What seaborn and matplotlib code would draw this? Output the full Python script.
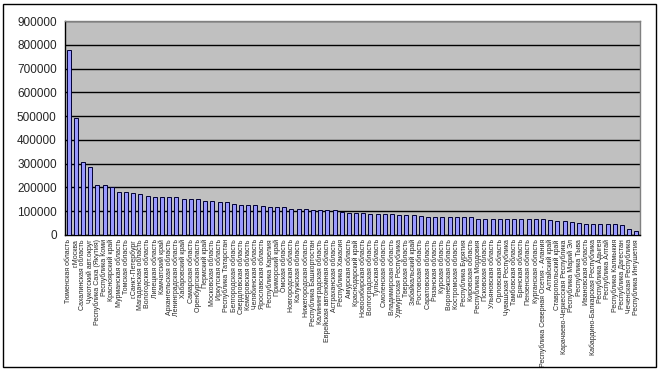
import matplotlib
matplotlib.use("Agg")
import matplotlib.pyplot as plt
import seaborn as sns
import pandas as pd
import numpy as np
from matplotlib.patches import Rectangle
from matplotlib.ticker import FixedLocator, MultipleLocator

regions = [
    "Тюменская область", "г.Москва", "Сахалинская область", "Чукотский авт.округ",
    "Республика Саха (Якутия)", "Республика Коми", "Красноярский край", "Мурманская область",
    "Томская область", "г.Санкт-Петербург", "Магаданская область", "Вологодская область",
    "Липецкая область", "Камчатский край", "Архангельская область", "Ленинградская область",
    "Хабаровский край", "Самарская область", "Оренбургская область", "Пермский край",
    "Московская область", "Иркутская область", "Республика Татарстан", "Белгородская область",
    "Свердловская область", "Кемеровская область", "Челябинская область", "Ярославская область",
    "Республика Карелия", "Приморский край", "Омская область", "Новгородская область",
    "Калужская область", "Нижегородская область", "Республика Башкортостан", "Калининградская область",
    "Еврейская автономная область", "Астраханская область", "Республика Хакасия", "Амурская область",
    "Краснодарский край", "Новосибирская область", "Волгоградская область", "Тульская область",
    "Смоленская область", "Владимирская область", "Удмуртская Республика", "Тверская область",
    "Забайкальский край", "Ростовская область", "Саратовская область", "Рязанская область",
    "Курская область", "Воронежская область", "Костромская область", "Республика Бурятия",
    "Кировская область", "Республика Мордовия", "Псковская область", "Ульяновская область",
    "Орловская область", "Чувашская Республика", "Тамбовская область", "Брянская область",
    "Пензенская область", "Курганская область", "Республика Северная Осетия - Алания", "Алтайский край",
    "Ставропольский край", "Карачаево-Черкесская Республика", "Республика Марий Эл", "Республика Тыва",
    "Ивановская область", "Кабардино-Балкарская Республика", "Республика Адыгея", "Республика Алтай",
    "Республика Калмыкия", "Республика Дагестан", "Чеченская Республика", "Республика Ингушетия",
]

values = [
    780000, 490000, 309000, 288000, 212000, 212000, 200000, 179000,
    179000, 175000, 171000, 166000, 158000, 158000, 158000, 158000,
    150000, 150000, 150000, 141000, 141000, 137000, 137000, 129000,
    125000, 125000, 125000, 121000, 117000, 117000, 117000, 108000,
    108000, 108000, 107000, 104000, 104000, 104000, 96000, 92000,
    92000, 92000, 87000, 87000, 87000, 87000, 83000, 83000,
    83000, 79000, 75000, 75000, 75000, 75000, 75000, 75000,
    75000, 66000, 66000, 66000, 66000, 66000, 66000, 66000,
    66000, 66000, 66000, 62000, 58000, 58000, 54000, 49000,
    45000, 45000, 45000, 45000, 45000, 41000, 24000, 15500,
]

y_ticks = [0, 100000, 200000, 300000, 400000, 500000, 600000, 700000, 800000, 900000]

df = pd.DataFrame({"region": regions, "value": values})

sns.set_style("white")
plt.rcParams["font.family"] = ["Liberation Sans", "DejaVu Sans"]

fig = plt.figure(figsize=(6.6, 3.7), dpi=100)
ax = fig.add_axes([65 / 660, 1 - 235 / 370, 575 / 660, 214 / 370])
ax.set_facecolor("#C0C0C0")

sns.barplot(data=df, x="region", y="value", color="#9999FF", edgecolor="#000033",
            linewidth=0.7, width=0.55, saturation=1, ax=ax, zorder=3)

ax.set_ylim(0, 900000)
ax.set_xlim(-0.5, len(regions) - 0.5)
ax.set_yticks(y_ticks)
ax.set_yticklabels([str(t) for t in y_ticks], fontsize=8.5)
ax.yaxis.grid(True, color="black", linewidth=1, zorder=1)
ax.set_axisbelow(True)
ax.set_xlabel("")
ax.set_ylabel("")

ax.set_xticks(range(len(regions)))
ax.set_xticklabels(regions, rotation=90, fontsize=5)
ax.tick_params(axis="x", which="major", length=0, pad=3)
ax.xaxis.set_minor_locator(FixedLocator(np.arange(-0.5, len(regions), 1)))
ax.tick_params(axis="x", which="minor", length=4, width=0.8, color="black", direction="out")
ax.tick_params(axis="y", which="major", length=4, width=0.8, color="black", direction="out", pad=2)

for s in ["left", "bottom"]:
    ax.spines[s].set_color("black")
    ax.spines[s].set_linewidth(1)
for s in ["top", "right"]:
    ax.spines[s].set_color("#808080")
    ax.spines[s].set_linewidth(1)

fig.patches.append(Rectangle((3 / 660, 3 / 370), 653 / 660, 363 / 370, transform=fig.transFigure,
                             fill=False, edgecolor="black", linewidth=1))

fig.savefig("out.png", dpi=100, facecolor="white")
